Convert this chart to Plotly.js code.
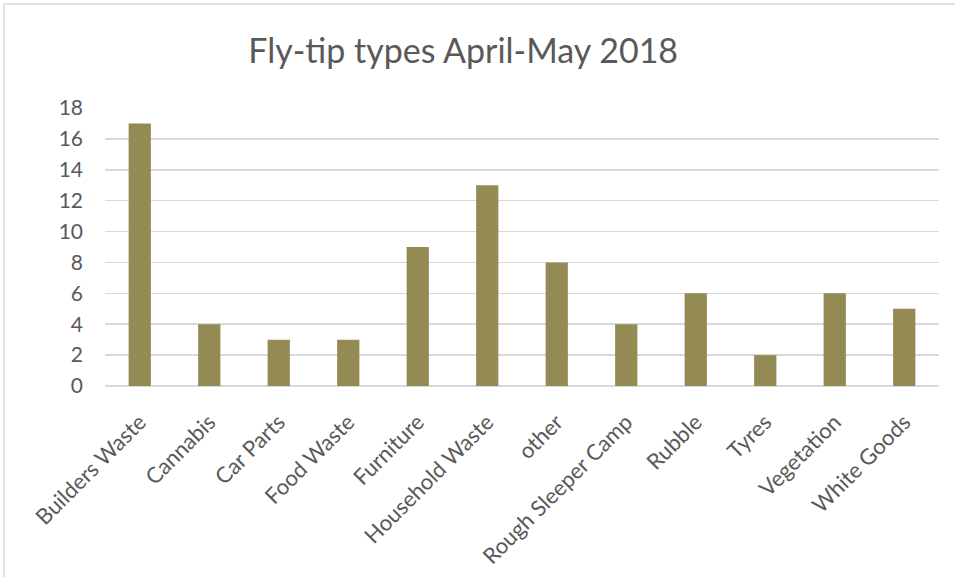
<!DOCTYPE html>
<html>
<head>
<meta charset="utf-8">
<script src="https://cdn.plot.ly/plotly-3.0.1.min.js"></script>
<style>html,body{margin:0;padding:0;background:#fff;}#chart{width:955px;height:577px;}</style>
</head>
<body>
<div id="chart"></div>
<script>
const categories = ["Builders Waste","Cannabis","Car Parts","Food Waste","Furniture","Household Waste","other","Rough Sleeper Camp","Rubble","Tyres","Vegetation","White Goods"];
const counts = [17,4,3,3,9,13,8,4,6,2,6,5];
const yTicks = [0,2,4,6,8,10,12,14,16,18];

const FONT = "Lato, 'Open Sans', sans-serif";
const trace = {
  type: 'bar',
  x: categories,
  y: counts,
  width: 0.32,
  marker: {color: '#948A54'},
  hoverinfo: 'x+y'
};
const layout = {
  width: 955, height: 577,
  margin: {l: 105, r: 16, t: 108, b: 191},
  paper_bgcolor: '#ffffff', plot_bgcolor: '#ffffff',
  showlegend: false,
  font: {family: FONT, color: '#595959'},
  title: {text: 'Fly-tip types April-May 2018', font: {family: FONT, size: 34, color: '#595959'},
          xref: 'container', yref: 'container', x: 0.485, xanchor: 'center', y: 0.912, yanchor: 'middle'},
  xaxis: {type: 'category', tickangle: -45, tickfont: {family: FONT, size: 22, color: '#595959'},
          showgrid: false, showline: false, zeroline: false, ticks: '', ticklabelstandoff: 18, automargin: false},
  yaxis: {range: [0, 18], tickvals: yTicks, ticktext: yTicks.map(String),
          tickfont: {family: FONT, size: 21, color: '#595959'},
          showgrid: true, gridcolor: '#D9D9D9', gridwidth: 1.5,
          zeroline: true, zerolinecolor: '#D9D9D9', zerolinewidth: 1.5,
          showline: false, ticks: '', ticklabelstandoff: 21, automargin: false},
  shapes: [{type: 'rect', xref: 'paper', yref: 'paper', x0: -0.1211, x1: 1.03, y0: -0.75, y1: 1.374,
            line: {color: '#D9D9D9', width: 1.5}, fillcolor: 'rgba(0,0,0,0)', layer: 'below'}]
};
Plotly.newPlot('chart', [trace], layout, {displayModeBar: false, staticPlot: true});
</script>
</body>
</html>
